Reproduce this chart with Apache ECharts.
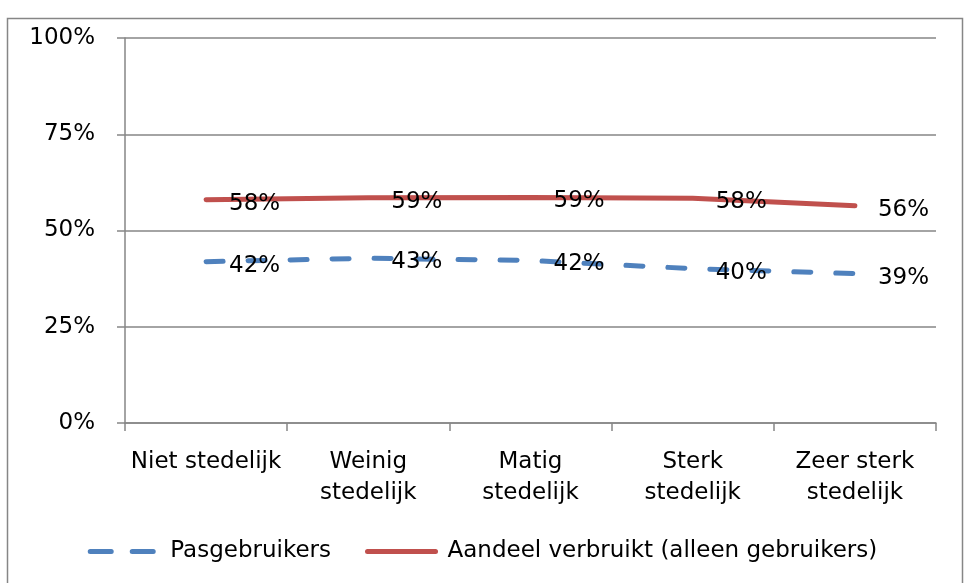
<!DOCTYPE html>
<html lang="nl">
<head>
  <meta charset="UTF-8">
  <title>Pasgebruikers naar stedelijkheid</title>
  <script src="https://cdn.jsdelivr.net/npm/echarts@6/dist/echarts.min.js"></script>
  <style>
    body { margin: 0; padding: 0; background: #fff; }
  </style>
</head>
<body>
  <div id="chart" style="width: 965px; height: 583px;"></div>
  <script>
    // categorieen (x-as)
    var categories = ['Niet stedelijk', 'Weinig\nstedelijk', 'Matig\nstedelijk', 'Sterk\nstedelijk', 'Zeer sterk\nstedelijk'];
    // waarden in procenten
    var pasgebruikers = [41.9, 42.8, 42.2, 40.1, 38.8];
    var aandeelVerbruikt = [58.0, 58.5, 58.6, 58.4, 56.4];
    var yTicks = [0, 25, 50, 75, 100];

    var font = 'DejaVu Sans';
    var grijs = '#868686';

    var chart = echarts.init(document.getElementById('chart'));

    var labelStyle = {
      show: true,
      position: 'right',
      distance: 22,
      offset: [0, 4],
      color: '#000',
      fontFamily: font,
      fontSize: 23,
      formatter: function (p) { return Math.round(p.value) + '%'; }
    };
    // punten onzichtbaar, alleen de labels tonen
    var geenPunt = { color: 'rgba(0,0,0,0)', borderWidth: 0 };

    var option = {
      animation: false,
      graphic: [{
        type: 'rect',
        shape: { x: 7.5, y: 18.5, width: 955, height: 620 },
        style: { fill: 'none', stroke: grijs, lineWidth: 1.5 },
        silent: true
      }],
      grid: { left: 125, right: 29, top: 38, bottom: 160 },
      xAxis: {
        type: 'category',
        data: categories,
        boundaryGap: true,
        axisLine: { lineStyle: { color: grijs, width: 1.5 } },
        axisTick: { show: true, length: 8, lineStyle: { color: grijs, width: 1.5 } },
        axisLabel: {
          color: '#000', fontFamily: font, fontSize: 23, lineHeight: 31, margin: 24, interval: 0
        }
      },
      yAxis: {
        type: 'value',
        min: 0,
        max: 100,
        interval: 25,
        axisLine: { show: true, lineStyle: { color: grijs, width: 1.5 } },
        axisTick: { show: true, length: 8, lineStyle: { color: grijs, width: 1.5 } },
        splitLine: { lineStyle: { color: grijs, width: 1.5 } },
        axisLabel: {
          color: '#000', fontFamily: font, fontSize: 23, margin: 30,
          formatter: function (v) { return yTicks.indexOf(v) >= 0 ? v + '%' : ''; }
        }
      },
      legend: {
        bottom: 15,
        left: 'center',
        itemWidth: 68,
        itemHeight: 14,
        itemGap: 34,
        lineStyle: { width: 5, cap: 'round' },
        itemStyle: { opacity: 0 },
        textStyle: { color: '#000', fontFamily: font, fontSize: 23, padding: [0, 0, 0, 7] },
        data: [
          { name: 'Pasgebruikers', lineStyle: { color: '#4F81BD', width: 5, type: [21, 21], cap: 'round' } },
          { name: 'Aandeel verbruikt (alleen gebruikers)', lineStyle: { color: '#C0504D', width: 5, cap: 'round' } }
        ]
      },
      series: [
        {
          name: 'Pasgebruikers',
          type: 'line',
          data: pasgebruikers,
          symbol: 'circle',
          symbolSize: 2,
          itemStyle: geenPunt,
          lineStyle: { color: '#4F81BD', width: 5, type: [17, 25], cap: 'round' },
          label: labelStyle,
          z: 3
        },
        {
          name: 'Aandeel verbruikt (alleen gebruikers)',
          type: 'line',
          data: aandeelVerbruikt,
          symbol: 'circle',
          symbolSize: 2,
          itemStyle: geenPunt,
          lineStyle: { color: '#C0504D', width: 5, cap: 'round' },
          label: labelStyle,
          z: 3
        }
      ]
    };

    chart.setOption(option);
  </script>
</body>
</html>
